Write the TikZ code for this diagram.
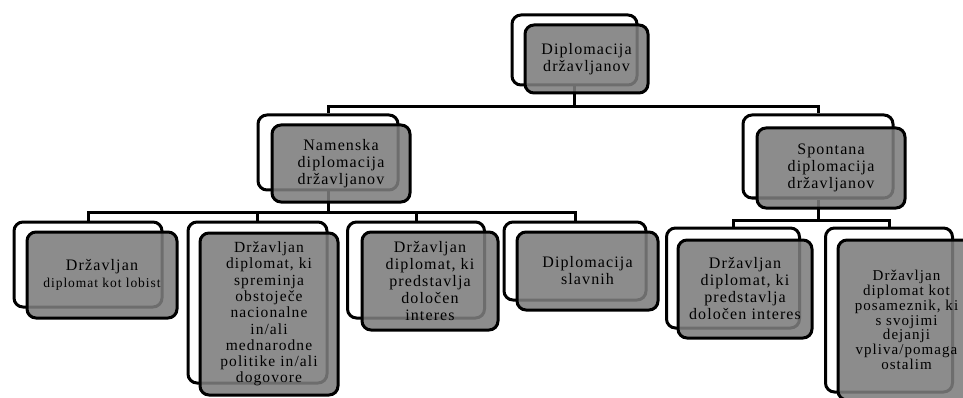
\documentclass[tikz,border=0pt]{standalone}
\usepackage{fontspec}
\setmainfont{Liberation Serif}[LetterSpace=7]
\begin{document}
\begin{tikzpicture}[x=1pt,y=-1pt,
  backframe/.style={draw=black, line width=3pt, rounded corners=9pt, fill=white, inner sep=0pt},
  frontbox/.style={draw=black, line width=3pt, rounded corners=9pt, fill=black!51, fill opacity=0.88, text opacity=1, inner sep=0pt, align=center, font=\fontsize{16}{17}\selectfont, text=black},
  conn/.style={draw=black, line width=3pt}]
\useasboundingbox (0,0) rectangle (963,398);
% back frames
\node[backframe, minimum width=125pt, minimum height=70pt] (topb) at (574.5,50) {};
\node[backframe, minimum width=140pt, minimum height=75pt] (namb) at (328,152.5) {};
\node[backframe, minimum width=150pt, minimum height=83pt] (spob) at (818,156.5) {};
\node[backframe, minimum width=148pt, minimum height=85pt] (b1b) at (88,264.5) {};
\node[backframe, minimum width=139pt, minimum height=161pt] (b2b) at (257.5,302.5) {};
\node[backframe, minimum width=137pt, minimum height=96pt] (b3b) at (416,270) {};
\node[backframe, minimum width=142pt, minimum height=78pt] (b4b) at (575,261) {};
\node[backframe, minimum width=133pt, minimum height=100pt] (b5b) at (733,278) {};
\node[backframe, minimum width=127pt, minimum height=164pt] (b6b) at (889,310) {};
% bus coordinates
\coordinate (bus1) at (0,107);
\coordinate (bus2) at (0,212);
\coordinate (bus3) at (0,220);
% connectors
\draw[conn] (topb.south) -- (topb.south |- bus1) -| (namb.north);
\draw[conn] (topb.south |- bus1) -| (spob.north);
\draw[conn] (namb.south) -- (namb.south |- bus2) -| (b1b.north);
\draw[conn] (namb.south |- bus2) -| (b2b.north);
\draw[conn] (namb.south |- bus2) -| (b3b.north);
\draw[conn] (namb.south |- bus2) -| (b4b.north);
\draw[conn] (spob.south) -- (spob.south |- bus3) -| (b5b.north);
\draw[conn] (spob.south |- bus3) -| (b6b.north);
% front boxes
\node[frontbox, minimum width=123pt, minimum height=68pt] (top) at (586.5,59) {Diplomacija\\državljanov};
\node[frontbox, minimum width=138pt, minimum height=77pt] (nam) at (341,163.5) {Namenska\\diplomacija\\državljanov};
\node[frontbox, minimum width=148pt, minimum height=80pt] (spo) at (831,168) {Spontana\\diplomacija\\državljanov};
\node[frontbox, minimum width=150pt, minimum height=86pt] (b1) at (102,275) {Državljan\\{\fontsize{13.5}{16}\selectfont diplomat kot lobist}};
\node[frontbox, minimum width=138pt, minimum height=162pt, font=\fontsize{15.5}{16.3}\selectfont] (b2) at (269,314) {Državljan\\diplomat, ki\\spreminja\\obstoječe\\nacionalne\\in/ali\\mednarodne\\politike in/ali\\dogovore};
\node[frontbox, minimum width=136pt, minimum height=98pt] (b3) at (430,281) {Državljan\\diplomat, ki\\predstavlja\\določen\\interes};
\node[frontbox, minimum width=141pt, minimum height=78pt] (b4) at (587.5,271) {Diplomacija\\slavnih};
\node[frontbox, minimum width=134pt, minimum height=98pt] (b5) at (745,289) {Državljan\\diplomat, ki\\predstavlja\\določen interes};
\node[frontbox, minimum width=137pt, minimum height=160pt, font=\fontsize{15}{14.8}\selectfont] (b6) at (906.5,320) {Državljan\\diplomat kot\\posameznik, ki\\s svojimi\\dejanji\\vpliva/pomaga\\ostalim};
\end{tikzpicture}
\end{document}
